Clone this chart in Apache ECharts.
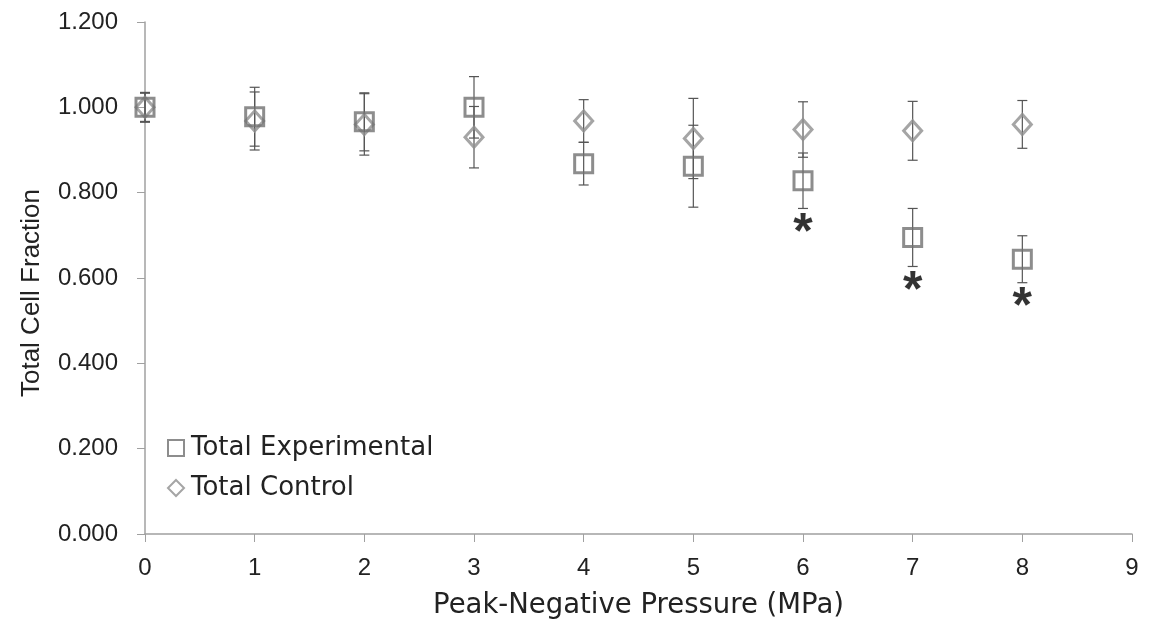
<!DOCTYPE html>
<html>
<head>
<meta charset="utf-8">
<script src="https://cdn.jsdelivr.net/npm/echarts@6/dist/echarts.min.js"></script>
<style>
html,body{margin:0;padding:0;background:#fff;}
#chart{width:1151px;height:625px;}
</style>
</head>
<body>
<div id="chart"></div>
<script>
// Data
const pressures = [0, 1, 2, 3, 4, 5, 6, 7, 8];
const expVals  = [1.000, 0.978, 0.966, 1.000, 0.868, 0.862, 0.828, 0.695, 0.644];
const expErr   = [0.035, 0.069, 0.068, 0.072, 0.050, 0.096, 0.065, 0.068, 0.055];
const ctrlVals = [1.000, 0.968, 0.960, 0.930, 0.968, 0.927, 0.948, 0.945, 0.960];
const ctrlErr  = [0.033, 0.068, 0.072, 0.072, 0.050, 0.094, 0.065, 0.069, 0.056];
const sigPressures = [6, 7, 8];
const yTicks = { min: 0, max: 1.2, interval: 0.2 };
const xTicks = { min: 0, max: 9, interval: 1 };

const WIDE = 'DejaVu Sans, Liberation Sans, Arial, sans-serif';
const FONT = 'Liberation Sans, Arial, sans-serif';
const expColor = '#707070';
const ctrlColor = '#8e8e8e';
const barColor = '#555555';

function errData(vals, errs) {
  return pressures.map((p, i) => [p, vals[i] - errs[i], vals[i] + errs[i]]);
}
function errRender(params, api) {
  const x = api.value(0);
  const lo = api.coord([x, api.value(1)]);
  const hi = api.coord([x, api.value(2)]);
  const hw = 5;
  const style = { stroke: barColor, lineWidth: 1.2, fill: null };
  return {
    type: 'group',
    children: [
      { type: 'line', shape: { x1: lo[0], y1: lo[1], x2: hi[0], y2: hi[1] }, style },
      { type: 'line', shape: { x1: lo[0] - hw, y1: lo[1], x2: lo[0] + hw, y2: lo[1] }, style },
      { type: 'line', shape: { x1: hi[0] - hw, y1: hi[1], x2: hi[0] + hw, y2: hi[1] }, style }
    ]
  };
}
const sigData = sigPressures.map(p => {
  const i = pressures.indexOf(p);
  return [p, expVals[i] - expErr[i]];
});

const chart = echarts.init(document.getElementById('chart'));
chart.setOption({
  animation: false,
  backgroundColor: '#ffffff',
  grid: { left: 145, right: 19, top: 22, bottom: 91, containLabel: false },
  xAxis: {
    type: 'value', min: xTicks.min, max: xTicks.max, interval: xTicks.interval,
    name: 'Peak-Negative Pressure (MPa)', nameLocation: 'middle', nameGap: 58,
    nameTextStyle: { fontFamily: WIDE, fontSize: 27.5, color: '#222' },
    axisLine: { onZero: false, lineStyle: { color: '#a0a0a0', width: 1.5 } },
    axisTick: { show: true, length: 8, lineStyle: { color: '#a0a0a0' } },
    axisLabel: { fontFamily: FONT, fontSize: 24, color: '#222', margin: 22 },
    splitLine: { show: false }
  },
  yAxis: {
    type: 'value', min: yTicks.min, max: yTicks.max, interval: yTicks.interval,
    name: 'Total Cell Fraction', nameLocation: 'middle', nameGap: 100,
    nameTextStyle: { fontFamily: FONT, fontSize: 26, color: '#222', padding: [0, 30, 0, 0] },
    axisLine: { show: true, lineStyle: { color: '#a0a0a0', width: 1.5 } },
    axisTick: { show: true, length: 8, lineStyle: { color: '#a0a0a0' } },
    axisLabel: { fontFamily: FONT, fontSize: 24, color: '#222', margin: 27,
      formatter: v => v.toFixed(3) },
    splitLine: { show: false }
  },
  legend: {
    orient: 'vertical', left: 167, top: 435, itemGap: 14, padding: 0,
    itemWidth: 16, itemHeight: 16,
    textStyle: { fontFamily: WIDE, fontSize: 26, lineHeight: 26, color: '#222', padding: [0, 0, 0, 2] },
    data: ['Total Experimental', 'Total Control']
  },
  series: [
    { name: 'ctrlErr', type: 'custom', renderItem: errRender, data: errData(ctrlVals, ctrlErr), z: 1, silent: true },
    { name: 'expErr', type: 'custom', renderItem: errRender, data: errData(expVals, expErr), z: 1, silent: true },
    {
      name: 'Total Control', type: 'scatter', symbol: 'diamond', symbolSize: [18, 20], z: 3,
      itemStyle: { color: 'rgba(255,255,255,0)', borderColor: ctrlColor, borderWidth: 3 },
      data: pressures.map((p, i) => [p, ctrlVals[i]])
    },
    {
      name: 'Total Experimental', type: 'scatter', symbol: 'rect', symbolSize: 18, z: 4,
      itemStyle: { color: 'rgba(255,255,255,0)', borderColor: expColor, borderWidth: 3 },
      data: pressures.map((p, i) => [p, expVals[i]])
    },
    {
      name: 'sig', type: 'scatter', symbol: 'circle', symbolSize: 2, z: 5, silent: true,
      itemStyle: { color: 'rgba(0,0,0,0)' },
      data: sigData,
      label: { show: true, formatter: '*', position: 'inside', offset: [0, 26],
        fontFamily: FONT, fontSize: 50, fontWeight: 'bold', color: '#000' }
    }
  ]
});
</script>
</body>
</html>
